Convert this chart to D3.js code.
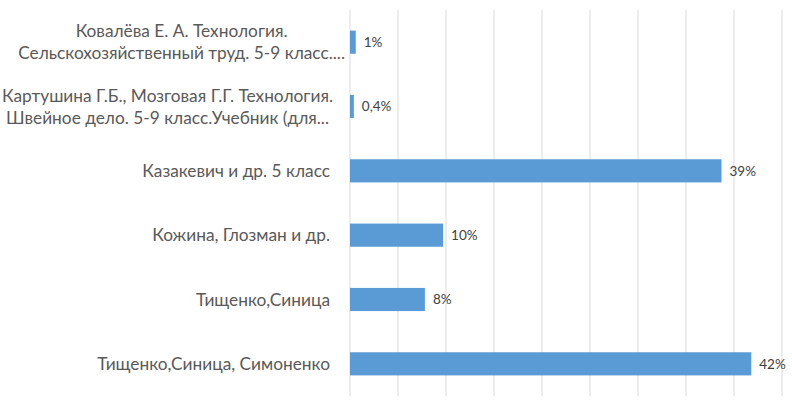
<!DOCTYPE html>
<html><head><meta charset="utf-8">
<script src="https://cdn.jsdelivr.net/npm/d3@7"></script>
<style>body{margin:0;background:#fff}</style></head>
<body><svg id="c" width="792" height="411"></svg>
<script>
const categories = [
  ["Ковалёва Е. А. Технология.", "Сельскохозяйственный труд. 5-9 класс...."],
  ["Картушина Г.Б., Мозговая Г.Г. Технология.", "Швейное дело. 5-9 класс.Учебник (для..."],
  ["Казакевич и др. 5 класс"],
  ["Кожина, Глозман и др."],
  ["Тищенко,Синица"],
  ["Тищенко,Синица, Симоненко"]
];
const values = [0.6, 0.4, 38.7, 9.7, 7.8, 41.8];
const valueLabels = ["1%", "0,4%", "39%", "10%", "8%", "42%"];
const ticks = [0,5,10,15,20,25,30,35,40,45];

const svg = d3.select("#c");
const x = d3.scaleLinear().domain([0,45]).range([350,782]);
const y = d3.scaleBand().domain(d3.range(categories.length)).range([10,396]).paddingInner(0.64).paddingOuter(0.32);

svg.append("g").selectAll("line").data(ticks).join("line")
  .attr("x1",d=>x(d)).attr("x2",d=>x(d)).attr("y1",10).attr("y2",396)
  .attr("stroke","#d9d9d9").attr("stroke-width",1);

svg.append("g").selectAll("rect").data(values).join("rect")
  .attr("x",x(0)).attr("y",(d,i)=>y(i)).attr("width",d=>x(d)-x(0)).attr("height",y.bandwidth())
  .attr("fill","#5b9bd5");

svg.append("g").selectAll("text").data(values).join("text")
  .attr("x",d=>x(d)+8).attr("y",(d,i)=>y(i)+y.bandwidth()/2).attr("dy","0.35em")
  .attr("font-family","Lato, 'Open Sans', sans-serif").attr("font-size",13.5).attr("fill","#404040")
  .text((d,i)=>valueLabels[i]);

const lab = svg.append("g").attr("font-family","Lato, 'Open Sans', sans-serif").attr("font-size",17.3).attr("fill","#595959");
categories.forEach((lines,i)=>{
  const cy = y(i)+y.bandwidth()/2;
  const g = lab.append("g");
  const ts = lines.map((l,k)=>g.append("text").attr("y",cy+(k-(lines.length-1)/2)*22).attr("dy","0.35em").text(l));
  if(lines.length===1){ ts[0].attr("x",330).attr("text-anchor","end"); }
  else {
    const w = Math.max(...ts.map(t=>t.node().getComputedTextLength()));
    const right = i===0?345:333;
    ts.forEach(t=>t.attr("x",right-w/2).attr("text-anchor","middle"));
  }
});
</script></body></html>
